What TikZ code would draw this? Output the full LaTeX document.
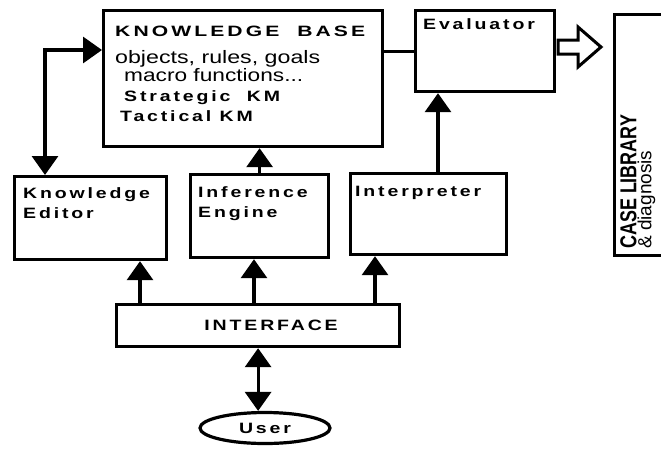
\documentclass[tikz,border=0pt]{standalone}
\usepackage{fontspec}
\setmainfont{Liberation Sans}
\newfontfamily\bdfont[FakeStretch=1.3,LetterSpace=19]{Liberation Sans}
\newfontfamily\casefont[FakeStretch=0.78]{Liberation Sans}
\usetikzlibrary{arrows.meta,shapes.geometric,positioning}
% regular text of the knowledge base, stretched to the width of the original
\newcommand{\wideline}[2]{\resizebox{#1}{\height}{\normalfont\fontsize{18}{20}\selectfont #2}}

\begin{document}
\begin{tikzpicture}[x=1pt, y=-1pt,
    box/.style={rectangle, draw, line width=3.2pt, anchor=north west, inner sep=0pt},
    lbl/.style={anchor=north west, inner sep=0pt, align=left,
                font=\bdfont\bfseries\fontsize{15}{20}\selectfont},
    arrow/.style={-{Triangle[width=26pt,length=19pt]}, line width=3.2pt},
    biarrow/.style={{Triangle[width=26pt,length=19pt]}-{Triangle[width=26pt,length=19pt]}, line width=3.2pt}
  ]
    \clip (0,0) rectangle (661,450);

    \node[box, minimum width=279, minimum height=136,
          label={[lbl, xshift=13pt, yshift=-17pt]north west:{\resizebox{250pt}{\height}{KNOWLEDGE\ \ BASE}\\[7pt]
            \wideline{205pt}{objects, rules, goals}\\[-2pt]
            \hspace*{9pt}\wideline{179pt}{macro functions...}\\
            \hspace*{9pt}Strategic\ \ KM\\
            \hspace*{5pt}Tactical KM}}] (kb) at (102,9) {};
    \node[box, minimum width=139, minimum height=81,
          label={[lbl, xshift=9pt, yshift=-9pt]north west:Evaluator}] (ev) at (414,9) {};
    \node[box, minimum width=152, minimum height=83,
          label={[lbl, xshift=10pt, yshift=-12pt]north west:{Knowledge\\Editor}}] (ed) at (13,175) {};
    \node[box, minimum width=138, minimum height=83,
          label={[lbl, xshift=9pt, yshift=-13pt]north west:{Inference\\Engine}}] (inf) at (189,173) {};
    \node[box, minimum width=156, minimum height=81,
          label={[lbl, xshift=6pt, yshift=-14pt]north west:Interpreter}] (ip) at (349,172) {};
    \node[box, minimum width=283, minimum height=42,
          label={[lbl, anchor=center, xshift=13pt]center:INTERFACE}] (ifc) at (115,303) {};
    \node[ellipse, draw, line width=3.2pt, minimum width=130, minimum height=31, inner sep=0pt,
          font=\bdfont\bfseries\fontsize{15}{20}\selectfont] (user) at (265,428) {User};

    % case library, cut off at the right edge
    \node[box, minimum width=80, minimum height=241] (case) at (613,13) {};
    \node[rotate=90, anchor=north west, inner sep=0pt, align=left,
          font=\fontsize{19}{15}\selectfont] (casetxt) at (620,249)
          {{\casefont\bfseries\fontsize{23}{15}\selectfont CASE LIBRARY}\\\& diagnosis};

    % hollow arrow towards the case library
    \draw[line width=3pt] (558,40) -- (578,40) -- (578,27) -- (601,47)
        -- (578,67) -- (578,54) -- (558,54) -- cycle;

    \draw[line width=3.2pt] (ev.west) -- (ev.west -| kb.east);
    \draw[biarrow] ([xshift=32pt]ed.north west) |- ([yshift=-41pt]kb.north west);
    \draw[arrow] (inf.north) -- (inf.north |- kb.south);
    \coordinate (evin) at ([xshift=24pt]ev.south west);
    \draw[arrow] (evin |- ip.north) -- (evin);

    \coordinate (ifa) at ([xshift=25pt]ifc.north west);
    \coordinate (ifb) at ([xshift=139pt]ifc.north west);
    \coordinate (ifc') at ([xshift=260pt]ifc.north west);
    \draw[arrow] (ifa) -- (ifa |- ed.south);
    \draw[arrow] (ifb) -- (ifb |- inf.south);
    \draw[arrow] (ifc') -- (ifc' |- ip.south);
    \draw[biarrow] (ifc.south) -- (ifc.south |- user.north);
  \end{tikzpicture}
\end{document}
